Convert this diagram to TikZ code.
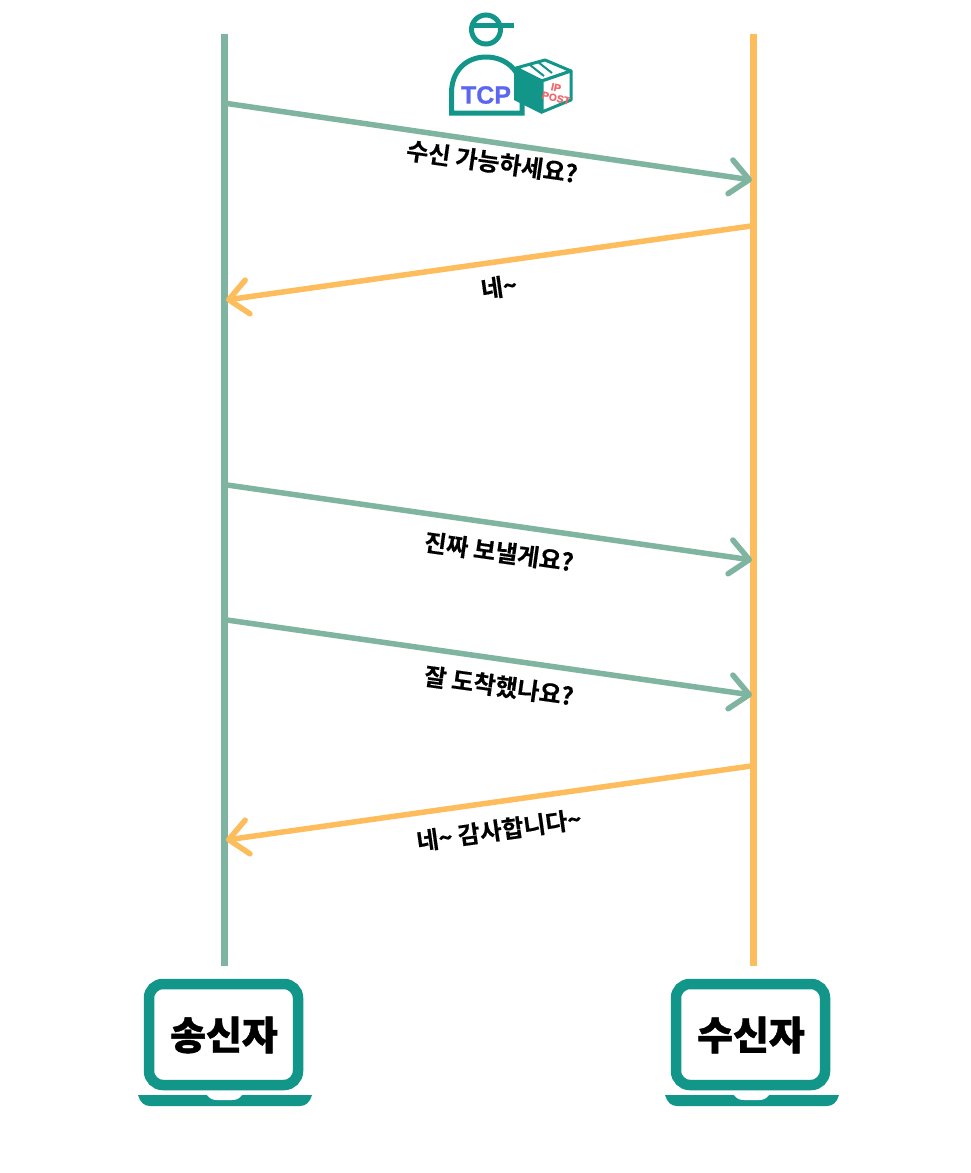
\documentclass[tikz,border=0pt]{standalone}
\usepackage{fontspec}
\usetikzlibrary{arrows.meta}
\newfontfamily\krfont{Noto Sans CJK KR Bold}[FakeBold=0.4]
\newfontfamily\krblack{Noto Sans CJK KR Black}[FakeBold=1.2]
\newfontfamily\latinbold{Liberation Sans Bold}[FakeBold=0.8]
\definecolor{sendgreen}{HTML}{7FB5A0}
\definecolor{recvorange}{HTML}{FDBD5C}
\definecolor{tealc}{HTML}{12968A}
\definecolor{tcpblue}{HTML}{5B67F0}
\definecolor{postred}{HTML}{F2676B}
\tikzset{
  lifegreen/.style={draw=sendgreen,line width=7pt},
  lifeorange/.style={draw=recvorange,line width=7pt},
  msg/.style={line width=5.5pt,-{Straight Barb[length=19pt,width=34pt,round]}},
  msggreen/.style={msg,draw=sendgreen},
  msgorange/.style={msg,draw=recvorange},
  msglabel/.style={font=\krfont\fontsize{24}{26}\selectfont,text=black,inner sep=0pt},
  hostlabel/.style={font=\krblack\fontsize{39}{41}\selectfont,text=black,inner sep=0pt},
  screenbox/.style={draw=tealc,line width=10.5pt,rounded corners=14pt,fill=white},
  iconline/.style={draw=tealc,line width=5pt},
}
\begin{document}
\begin{tikzpicture}[x=1pt,y=-1pt]
\useasboundingbox (0,0) rectangle (971,1173);
\fill[white] (0,0) rectangle (971,1173);
% anchors
\coordinate (stop) at (224.5,34);
\coordinate (sbot) at (224.5,966);
\coordinate (rtop) at (753.5,34);
\coordinate (rbot) at (753.5,966);
\foreach \n/\a/\b in {a/103.5/180,c/485/560,d/620/695}{
  \coordinate (s\n) at (227,\a);
  \coordinate (r\n) at (752,\b);
}
\foreach \n/\a/\b in {b/226/300,e/766/840}{
  \coordinate (r\n) at (751,\a);
  \coordinate (s\n) at (226,\b);
}
% lifelines
\draw[lifegreen] (stop) -- (sbot);
\draw[lifeorange] (rtop) -- (rbot);
% messages
\draw[msggreen] (sa) -- (ra);
\draw[msgorange] (rb) -- (sb);
\draw[msggreen] (sc) -- (rc);
\draw[msggreen] (sd) -- (rd);
\draw[msgorange] (re) -- (se);
\node[msglabel,rotate=-8] (la) at (492,162) {수신 가능하세요?};
\node[msglabel,rotate=8] (lb) at (499,287) {네\textasciitilde};
\node[msglabel,rotate=-8] (lc) at (499,552) {진짜 보낼게요?};
\node[msglabel,rotate=-8] (ld) at (499,686) {잘 도착했나요?};
\node[msglabel,rotate=8] (le) at (499,830) {네\textasciitilde{} 감사합니다\textasciitilde};
% laptops
\foreach \cx/\txt/\nm in {224/송신자/sender,751/수신자/receiver}{
  \begin{scope}[shift={(\cx,0)}]
    \draw[screenbox] (-75,984) rectangle (74,1085);
    \fill[tealc] (-86,1095) -- (88,1095) .. controls (86,1102) and (82,1106) .. (76,1106)
      -- (-74,1106) .. controls (-80,1106) and (-84,1102) .. (-86,1095) -- cycle;
    \fill[white] (-17,1095) -- (18,1095) .. controls (15,1099) and (12,1100) .. (8,1100)
      -- (-7,1100) .. controls (-11,1100) and (-14,1099) .. (-17,1095) -- cycle;
    \node[hostlabel] (\nm) at (0,1035) {\txt};
  \end{scope}
}
% courier icon
\draw[iconline] (486,29.5) circle (14.5);
\draw[iconline] (470,25.5) -- (514,25.5);
\draw[iconline,fill=white] (451.5,113) -- (451.5,93) .. controls (451.5,71) and (466,57) .. (486,57)
  .. controls (506,57) and (522,71) .. (522,93) -- (522,113) -- cycle;
\node[font=\latinbold\fontsize{25}{26}\selectfont,text=tcpblue,inner sep=0pt] (tcp) at (486,95) {TCP};
% parcel
\fill[tealc] (514,68) -- (542,80) -- (542,114) -- (514,100) -- cycle;
\draw[draw=tealc,line width=3pt,line join=round,fill=white] (516,68) -- (545,60) -- (571,71) -- (542,81) -- cycle;
\draw[draw=tealc,line width=3pt,line join=round,fill=white] (542,81) -- (571,71) -- (571,100) -- (542,112) -- cycle;
\draw[draw=tealc,line width=2pt] (530,65) -- (544,76);
\draw[draw=tealc,line width=2pt] (538,62) -- (552,73);
\node[font=\latinbold\fontsize{10.5}{10.5}\selectfont,text=postred,rotate=-13,inner sep=0pt] (ipmark) at (556,87.5) {IP};
\node[font=\latinbold\fontsize{10.5}{10.5}\selectfont,text=postred,rotate=-13,inner sep=0pt] (post) at (556,98) {POST};
\end{tikzpicture}
\end{document}
